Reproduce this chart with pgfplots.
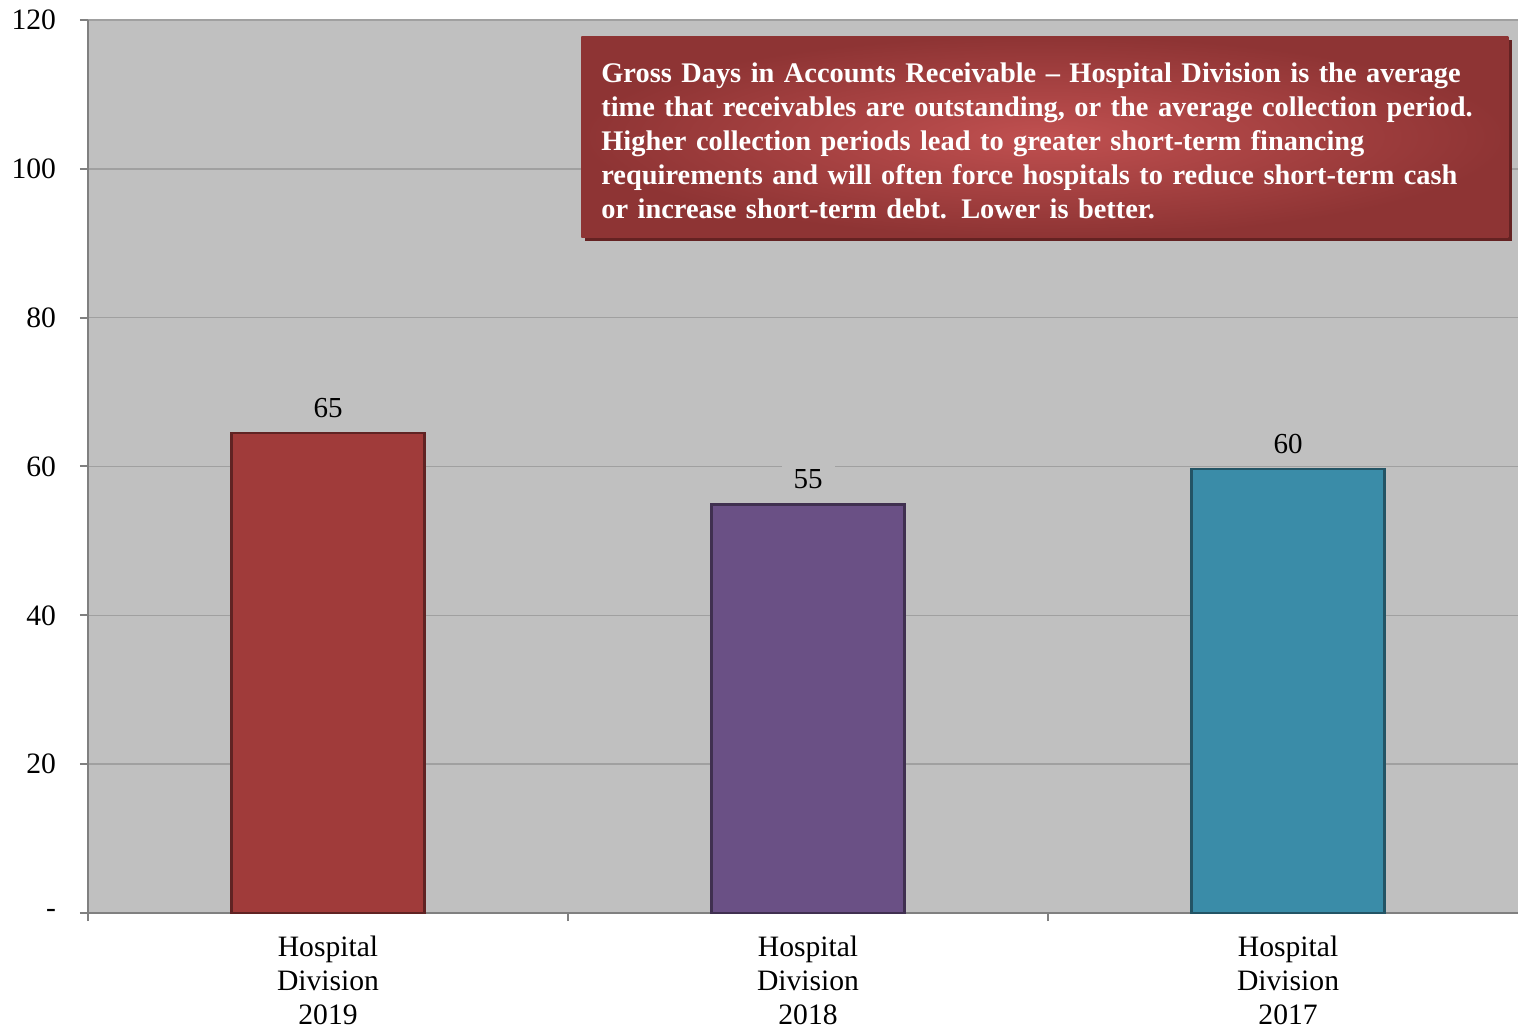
\documentclass[border=0pt]{standalone}
\usepackage{pgfplots}
\pgfplotsset{compat=1.18}
\usepackage{fontspec}
\setmainfont{Liberation Serif}
\usetikzlibrary{shadows}

\definecolor{bggray}{RGB}{192,192,192}
\definecolor{gridgray}{RGB}{160,160,160}
\definecolor{axisgray}{RGB}{128,128,128}
\definecolor{barred}{RGB}{160,59,58}
\definecolor{barpurple}{RGB}{106,80,133}
\definecolor{barteal}{RGB}{58,140,168}
\definecolor{boxin}{RGB}{192,80,80}
\definecolor{boxout}{RGB}{142,52,52}
\definecolor{boxshadow}{RGB}{100,34,34}

\begin{document}
\begin{tikzpicture}
\begin{axis}[
    scale only axis,
    width=715pt, height=446.5pt,
    xmin=-0.5, xmax=2.479,
    ymin=0, ymax=120,
    axis x line=bottom, axis y line=left,
    axis line style={draw=axisgray, line width=1pt, -},
    axis background/.style={fill=bggray},
    ybar, bar width=0.402, bar shift=0pt,
    xtick={-0.5,0.5,1.5},
    xticklabels={{Hospital\\Division\\2019},{Hospital\\Division\\2018},{Hospital\\Division\\2017}},
    xticklabel style={xshift=120pt, align=center, yshift=-4pt},
    ytick={0,20,...,120},
    yticklabels={-,20,40,60,80,100,120},
    yticklabel style={xshift=-8.5pt},
    tick align=outside, major tick length=4pt,
    tick style={draw=axisgray, line width=1pt},
    ymajorgrids, xmajorgrids=false,
    grid style={draw=gridgray, line width=0.8pt},
    tick label style={font=\fontsize{14.8}{17}\selectfont},
    point meta=explicit symbolic,
    nodes near coords,
    every node near coord/.append style={font=\fontsize{14.5}{16}\selectfont, fill=bggray, inner xsep=6pt, inner ysep=2pt, yshift=5pt, text=black},
    clip=false,
]
\addplot[fill=barred, draw=barred!60!black, line width=1.2pt] coordinates {(0,64.5) [65]};
\addplot[fill=barpurple, draw=barpurple!60!black, line width=1.2pt] coordinates {(1,54.9) [55]};
\addplot[fill=barteal, draw=barteal!60!black, line width=1.2pt] coordinates {(2,59.7) [60]};
\node[anchor=north west, inner color=boxin, outer color=boxout,
      minimum width=463.5pt, minimum height=100.5pt, inner xsep=10pt, inner ysep=6pt,
      text width=443.5pt, align=left, text=white,
      font=\bfseries\fontsize{14.2}{17}\selectfont,
      drop shadow={shadow xshift=2pt, shadow yshift=-2pt, fill=boxshadow, opacity=1}]
  at (axis cs:0.527,117.9)
  {Gross Days in Accounts Receivable -- Hospital Division is the average\\
   time that receivables are outstanding, or the average collection period.\\
   Higher collection periods lead to greater short-term financing\\
   requirements and will often force hospitals to reduce short-term cash\\
   or increase short-term debt. Lower is better.\par\vspace{-4pt}};
\coordinate (sw) at (rel axis cs:0,0);
\coordinate (ne) at (rel axis cs:1,1);
\end{axis}
\pgfresetboundingbox
\path ([xshift=-44pt,yshift=-59.5pt]sw) rectangle ([yshift=10pt]ne);
\end{tikzpicture}
\end{document}
